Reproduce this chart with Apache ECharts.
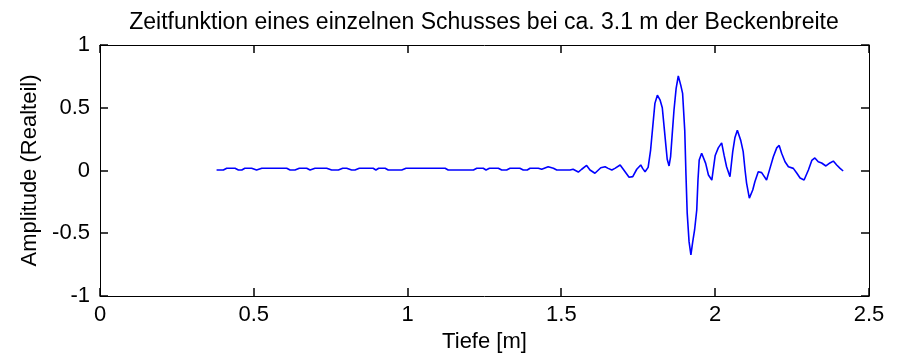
<!DOCTYPE html>
<html>
<head>
<meta charset="utf-8">
<script src="https://cdn.jsdelivr.net/npm/echarts@6/dist/echarts.min.js"></script>
<style>
  html, body { margin: 0; padding: 0; background: #fff; }
  #chart { width: 905px; height: 357px; }
</style>
</head>
<body>
<div id="chart"></div>
<script>
// Depth positions [m] of the recorded samples
const depth = [
  0.379, 0.401, 0.412, 0.439, 0.450, 0.461, 0.471, 0.493, 0.509, 0.526,
  0.607, 0.618, 0.634, 0.648, 0.672, 0.683, 0.699, 0.737, 0.753, 0.775,
  0.789, 0.802, 0.818, 0.829, 0.843, 0.888, 0.897, 0.906, 0.927, 0.937,
  0.981, 0.995, 1.013, 1.019, 1.027, 1.122, 1.132, 1.214, 1.225, 1.246,
  1.255, 1.266, 1.295, 1.306, 1.322, 1.333, 1.365, 1.376, 1.389, 1.398,
  1.425, 1.436, 1.457, 1.474, 1.485, 1.528, 1.538, 1.555, 1.566, 1.582,
  1.593, 1.609, 1.628, 1.642, 1.652, 1.664, 1.674, 1.691, 1.707, 1.720,
  1.732, 1.745, 1.758, 1.764, 1.772, 1.782, 1.790, 1.797, 1.804, 1.812,
  1.821, 1.828, 1.835, 1.840, 1.844, 1.850, 1.855, 1.860, 1.866, 1.873,
  1.880, 1.888, 1.894, 1.901, 1.905, 1.909, 1.915, 1.921, 1.927, 1.933,
  1.940, 1.944, 1.948, 1.956, 1.961, 1.969, 1.978, 1.989, 2.000, 2.010,
  2.021, 2.029, 2.037, 2.048, 2.057, 2.064, 2.072, 2.083, 2.091, 2.097,
  2.102, 2.111, 2.122, 2.129, 2.140, 2.151, 2.167, 2.178, 2.189, 2.200,
  2.208, 2.216, 2.227, 2.238, 2.254, 2.265, 2.276, 2.289, 2.303, 2.314,
  2.324, 2.335, 2.346, 2.360, 2.373, 2.384, 2.395, 2.406, 2.416
];

// Real part of the amplitude at each depth
const amplitude = [
  0.004, 0.004, 0.018, 0.018, 0.004, 0.004, 0.018, 0.018, 0.004, 0.018,
  0.018, 0.004, 0.004, 0.018, 0.018, 0.004, 0.018, 0.018, 0.004, 0.004,
  0.018, 0.018, 0.004, 0.004, 0.018, 0.018, 0.004, 0.018, 0.018, 0.004,
  0.004, 0.018, 0.018, 0.004, 0.018, 0.018, 0.004, 0.004, 0.018, 0.018,
  0.004, 0.018, 0.018, 0.004, 0.004, 0.018, 0.018, 0.004, 0.004, 0.018,
  0.018, 0.010, 0.030, 0.018, 0.004, 0.004, 0.010, -0.012, 0.010, 0.040,
  0.004, -0.022, 0.022, 0.030, 0.017, 0.004, 0.017, 0.044, -0.010, -0.054,
  -0.049, 0.010, 0.044, 0.017, -0.010, 0.025, 0.163, 0.350, 0.535, 0.600,
  0.560, 0.500, 0.320, 0.190, 0.090, 0.036, 0.110, 0.280, 0.480, 0.655,
  0.753, 0.680, 0.615, 0.320, -0.036, -0.340, -0.567, -0.673, -0.567, -0.474,
  -0.315, -0.076, 0.084, 0.137, 0.124, 0.057, -0.036, -0.076, 0.120, 0.180,
  0.220, 0.120, 0.030, -0.050, 0.150, 0.260, 0.320, 0.240, 0.150, 0.004,
  -0.100, -0.220, -0.155, -0.090, -0.010, -0.017, -0.076, 0.017, 0.110, 0.180,
  0.200, 0.137, 0.070, 0.030, 0.017, -0.020, -0.060, -0.076, 0.004, 0.080,
  0.100, 0.070, 0.060, 0.036, 0.060, 0.075, 0.044, 0.017, -0.004
];

// Tick values of both axes
const xTickValues = [0, 0.5, 1, 1.5, 2, 2.5];
const yTickValues = [-1, -0.5, 0, 0.5, 1];

const chartTitle = 'Zeitfunktion eines einzelnen Schusses bei ca. 3.1 m der Beckenbreite';
const xName = 'Tiefe [m]';
const yName = 'Amplitude (Realteil)';

(function drawChart() {
  const FONT = '"Liberation Sans", Arial, Helvetica, sans-serif';
  const ink = '#000000';
  const TICK_LEN = 8;

  const points = depth.map((d, i) => [d, amplitude[i]]);
  const xMin = xTickValues[0], xMax = xTickValues[xTickValues.length - 1];
  const yMin = yTickValues[0], yMax = yTickValues[yTickValues.length - 1];
  const xStep = xTickValues[1] - xTickValues[0];
  const yStep = yTickValues[1] - yTickValues[0];

  function fmt(v) {
    return String(Math.round(v * 10) / 10);
  }

  // Shared look for the four sides of the axes box
  function boxAxis(extra) {
    return Object.assign({
      axisLine: { show: true, onZero: false, lineStyle: { color: ink, width: 1 } },
      axisTick: { show: false },
      splitLine: { show: false }
    }, extra);
  }

  const chart = echarts.init(document.getElementById('chart'));
  chart.setOption({
    animation: false,
    backgroundColor: '#ffffff',
    title: {
      text: chartTitle,
      left: 479,
      textAlign: 'center',
      top: 6,
      textStyle: { fontFamily: FONT, fontSize: 23, fontWeight: 'normal', color: ink }
    },
    grid: { left: 100, right: 36, top: 45, bottom: 61, outerBoundsMode: 'none' },
    xAxis: [
      boxAxis({
        type: 'value', position: 'bottom',
        min: xMin, max: xMax, interval: xStep,
        name: xName, nameLocation: 'middle', nameGap: 35,
        nameTextStyle: { fontFamily: FONT, fontSize: 22, color: ink },
        axisLabel: { show: true, margin: 8, fontFamily: FONT, fontSize: 22, color: ink, formatter: fmt }
      }),
      boxAxis({
        type: 'value', position: 'top',
        min: xMin, max: xMax, interval: xStep,
        axisLabel: { show: false }
      })
    ],
    yAxis: [
      boxAxis({
        type: 'value', position: 'left',
        min: yMin, max: yMax, interval: yStep,
        name: yName, nameLocation: 'middle', nameGap: 58, nameRotate: 90,
        nameTextStyle: { fontFamily: FONT, fontSize: 22, color: ink },
        axisLabel: { show: true, margin: 10, fontFamily: FONT, fontSize: 22, color: ink, formatter: fmt }
      }),
      boxAxis({
        type: 'value', position: 'right',
        min: yMin, max: yMax, interval: yStep,
        axisLabel: { show: false }
      })
    ],
    series: [{
      type: 'line',
      xAxisIndex: 0,
      yAxisIndex: 0,
      data: points,
      showSymbol: false,
      smooth: false,
      lineStyle: { color: '#0000ff', width: 1.6 }
    }]
  });

  // Inward tick marks on all four sides, placed through the axes' own scales
  const toX = v => chart.convertToPixel({ xAxisIndex: 0 }, v);
  const toY = v => chart.convertToPixel({ yAxisIndex: 0 }, v);
  const boxLeft = toX(xMin), boxRight = toX(xMax);
  const boxTop = toY(yMax), boxBottom = toY(yMin);
  const tickStyle = { stroke: ink, lineWidth: 1.5 };
  const ticks = [];
  xTickValues.forEach(v => {
    const x = Math.round(toX(v));
    ticks.push({ type: 'line', z: 100, shape: { x1: x, y1: boxBottom, x2: x, y2: boxBottom - TICK_LEN }, style: tickStyle, silent: true });
    ticks.push({ type: 'line', z: 100, shape: { x1: x, y1: boxTop, x2: x, y2: boxTop + TICK_LEN }, style: tickStyle, silent: true });
  });
  yTickValues.forEach(v => {
    const y = Math.round(toY(v));
    ticks.push({ type: 'line', z: 100, shape: { x1: boxLeft, y1: y, x2: boxLeft + TICK_LEN, y2: y }, style: tickStyle, silent: true });
    ticks.push({ type: 'line', z: 100, shape: { x1: boxRight, y1: y, x2: boxRight - TICK_LEN, y2: y }, style: tickStyle, silent: true });
  });
  chart.setOption({ graphic: { elements: ticks } });
})();
</script>
</body>
</html>
